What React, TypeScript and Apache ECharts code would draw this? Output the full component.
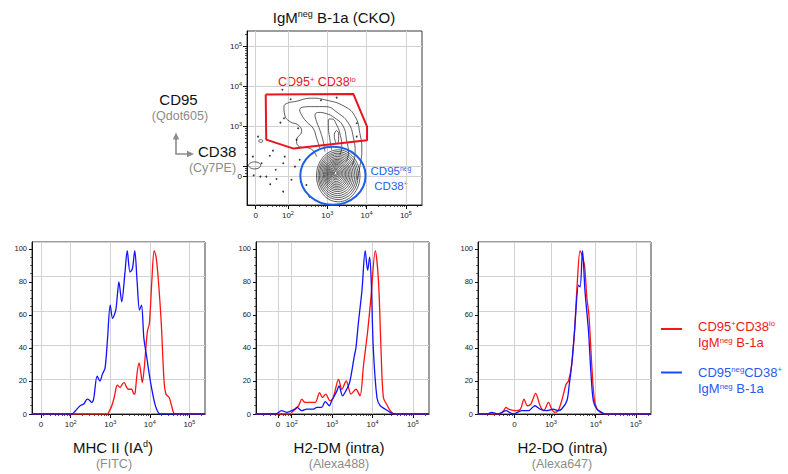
import React, { useEffect, useRef } from "react";
import * as echarts from "echarts";

const FONT = '"Liberation Sans", Arial, Helvetica, sans-serif';
const RED = "#ff1212";
const BLUE = "#1212ff";
const GATE_RED = "#e8141e";
const GATE_BLUE = "#1f5fe6";
const LEG_RED = "#f01818";
const LEG_BLUE = "#2a5af0";
const GRAY = "#8c8c8c";
const GRID_LINE = "#d2d2d2";

// ---------- Histogram data: [display position (decades), % of max] ----------
const mhcRed = [[1.02,0],[2.93,0],[2.98,2],[3.04,5],[3.10,10],[3.15,16],[3.18,17.5],[3.25,16],[3.30,18],[3.35,19],[3.42,16],[3.46,15],[3.54,15],[3.60,12],[3.63,13],[3.68,25],[3.73,31],[3.78,24],[3.81,19],[3.86,28],[3.90,40],[3.94,50],[3.99,55],[4.05,80],[4.11,99],[4.16,95],[4.22,80],[4.29,55],[4.36,20],[4.41,12],[4.49,10],[4.55,5],[4.64,0],[5.40,0]];
const mhcBlue = [[1.02,0],[2.03,0],[2.12,2],[2.24,5],[2.33,6],[2.42,9],[2.47,8.5],[2.53,7],[2.58,9],[2.67,23],[2.74,20],[2.80,24],[2.87,28],[2.93,45],[3.00,66],[3.06,58],[3.14,63],[3.18,72],[3.22,80],[3.29,68],[3.37,85],[3.43,99],[3.50,86],[3.56,88],[3.62,99],[3.68,80],[3.74,63],[3.79,66],[3.85,46],[3.92,35],[3.98,25],[4.05,15],[4.11,8],[4.17,3],[4.26,0],[5.40,0]];
const dmRed = [[1.11,0],[1.96,0],[2.00,1],[2.17,5],[2.25,9],[2.33,7],[2.45,7],[2.58,7],[2.69,13],[2.76,10],[2.84,12],[2.95,8],[3.03,10],[3.16,21],[3.24,15],[3.35,20],[3.47,12],[3.59,15],[3.69,11],[3.78,30],[3.88,50],[3.96,70],[4.07,99],[4.15,80],[4.21,40],[4.27,10],[4.37,5],[4.44,2],[4.54,0],[5.40,0]];
const dmBlue = [[1.11,0],[1.60,0],[1.75,2],[1.88,1],[2.08,3],[2.13,4],[2.25,2],[2.37,3],[2.54,3],[2.62,4],[2.74,4],[2.83,7.5],[2.93,5],[2.99,8],[3.12,14],[3.17,17],[3.26,11],[3.34,14],[3.42,18],[3.46,22],[3.55,35],[3.59,40],[3.65,55],[3.74,75],[3.82,99],[3.88,87],[3.93,95],[3.97,80],[4.02,40],[4.11,10],[4.19,5],[4.31,3],[4.44,1],[4.55,0],[5.40,0]];
const doRed = [[1.06,0],[1.60,0],[1.70,2],[1.76,4],[1.82,3],[2.00,2],[2.12,3],[2.21,9],[2.29,5],[2.38,6],[2.50,12.5],[2.61,5],[2.70,2],[2.82,7],[2.90,3],[2.98,1],[3.06,2],[3.15,8],[3.26,18],[3.32,20],[3.40,30],[3.47,50],[3.54,80],[3.61,99],[3.67,95],[3.72,90],[3.78,70],[3.83,60],[3.90,30],[3.96,10],[4.03,3],[4.12,1],[4.23,0],[5.38,0]];
const doBlue = [[1.06,0],[1.30,0],[1.40,1],[1.55,0],[1.76,2],[1.94,0],[2.15,2],[2.32,2],[2.48,5],[2.61,3],[2.78,2],[2.94,3],[3.06,2],[3.15,3],[3.28,8],[3.34,18],[3.40,30],[3.47,50],[3.57,78],[3.61,77],[3.67,99],[3.73,75],[3.82,50],[3.88,25],[3.94,8],[4.03,3],[4.15,1],[4.23,0],[5.38,0]];

// ---------- Tick labels (positions in display decades) ----------
const histTickLabels = ["0", "10^2", "10^3", "10^4", "10^5"];
const mhcTickPos = [1.25, 2, 3, 4, 5];
const dmTickPos = [1.66, 2, 3, 4, 5];
const doTickLabels = ["0", "10^3", "10^4", "10^5"];
const doTickPos = [1.97, 2.88, 4, 5];
const percentTicks = [0, 20, 40, 60, 80, 100];
const contourXLabels = ["0", "10^2", "10^3", "10^4", "10^5"];
const contourXPos = [1.18, 2, 3, 4, 5];
const contourYLabels = ["0", "10^3", "10^4", "10^5"];
const contourYLabelPos = [1.75, 3, 4, 5];
const contourYTickPos = [1.75, 2, 3, 4, 5];

// ---------- Contour plot data (x: CD38 decades, y: CD95 decades) ----------
const gatePolygon = [[1.436,3.805],[3.663,3.818],[4.013,3.0],[4.013,2.66],[2.145,2.45],[1.449,2.675],[1.436,3.805]];
const gateEllipse = [[3.145,1.77,0.83,0.725]];
// [cx, cy, rx, ry]
const blobRings = [
  [3.28,1.77,0.553,0.65],[3.276,1.775,0.51,0.60],[3.272,1.78,0.472,0.555],[3.268,1.785,0.434,0.51],
  [3.264,1.79,0.395,0.465],[3.26,1.795,0.357,0.42],[3.255,1.80,0.324,0.38],[3.25,1.805,0.291,0.342],
  [3.245,1.81,0.26,0.306],[3.24,1.815,0.23,0.27],[3.235,1.82,0.199,0.234],[3.23,1.825,0.168,0.198],
  [3.225,1.83,0.138,0.162],[3.22,1.832,0.11,0.129],[3.217,1.834,0.082,0.096],[3.215,1.835,0.056,0.066],
  [3.214,1.835,0.033,0.04],
];
const smallLoops = [[1.155,2.03,0.153,0.0875],[1.31,2.64,0.05,0.035]];
const contourA = [[2.73,2.25],[2.60,2.435],[2.26,2.52],[2.22,2.67],[2.35,2.875],[2.26,3.04],[2.05,3.125],[1.92,3.29],[1.90,3.5],[2.0,3.59],[2.18,3.625],[2.60,3.71],[2.94,3.67],[3.45,3.5],[3.71,3.25],[3.83,2.835],[3.88,2.42],[3.83,2.0],[3.76,1.67]];
const contourB = [[2.81,2.46],[2.73,2.71],[2.64,2.96],[2.47,3.125],[2.35,3.29],[2.30,3.42],[2.41,3.49],[2.60,3.5],[2.94,3.5],[3.28,3.335],[3.54,3.085],[3.66,2.75],[3.71,2.335],[3.63,2.04]];
const contourC = [[2.94,2.375],[2.90,2.625],[2.81,2.92],[2.73,3.125],[2.69,3.29],[2.79,3.355],[2.94,3.335],[3.20,3.21],[3.41,3.0],[3.49,2.67],[3.54,2.335],[3.48,2.12]];
const contourD = [[3.11,2.42],[3.07,2.67],[3.03,3.0],[3.03,3.17],[3.12,3.19],[3.24,3.04],[3.32,2.835],[3.37,2.5],[3.32,2.29]];
const contourE = [[3.235,2.905],[3.29,2.82],[3.29,2.67],[3.25,2.57],[3.20,2.65],[3.18,2.80],[3.235,2.905]];
const outlierDots = [[1.86,3.92],[2.07,3.685],[2.84,3.66],[3.24,3.725],[1.90,3.21],[1.81,3.10],[2.26,2.96],[1.24,2.75],[2.22,2.67],[1.11,2.25],[1.62,2.40],[1.54,2.27],[1.92,2.25],[1.88,2.085],[1.33,2.085],[1.69,1.92],[2.18,2.0],[1.45,1.75],[1.30,1.75],[1.71,1.69],[2.09,1.67],[1.88,1.375],[2.47,1.54],[3.75,3.085],[3.75,2.75],[2.30,2.17],[1.13,1.78],[1.55,1.56],[2.55,1.25]];

// ---------- helpers ----------
const supFmt = (t: string) => (t.includes("^") ? t.replace(/\^(.+)$/, "{s|$1}") : t);
const makeFormatter = (labels: string[], pos: number[]) => (v: number) => {
  const i = pos.findIndex((p) => Math.abs(p - v) < 1e-6);
  return i < 0 ? "" : supFmt(labels[i]);
};
const logMinors = (lo: number, hi: number) => {
  const out: number[] = [];
  for (let k = 1; k <= 5; k++)
    for (let m = 2; m <= 9; m++) {
      const v = k + Math.log10(m);
      if (v > lo && v < hi) out.push(v);
    }
  return out;
};
const axisLabelStyle = {
  fontFamily: FONT,
  fontSize: 8,
  color: "#222",
  lineHeight: 11,
  rich: { s: { fontFamily: FONT, fontSize: 5.5, lineHeight: 6, verticalAlign: "top", color: "#222" } },
};

function txt(x: number, y: number, text: string, fs: number, fill: string, align = "center") {
  const sfs = Math.round(fs * 0.6 * 10) / 10;
  return {
    type: "text",
    x,
    y,
    silent: true,
    style: {
      text,
      fill,
      fontFamily: FONT,
      fontSize: fs,
      lineHeight: fs,
      align,
      verticalAlign: "middle",
      rich: { s: { fontFamily: FONT, fontSize: sfs, lineHeight: sfs, verticalAlign: "top", fill } },
    },
  };
}

function buildOption() {
  const grids = [
    { left: 247, top: 31, width: 175, height: 174 },
    { left: 32, top: 242, width: 173, height: 172 },
    { left: 256, top: 242, width: 173, height: 172 },
    { left: 478, top: 242, width: 173, height: 172 },
  ].map((g) => ({ ...g, show: true, borderColor: "#3a3a3a", borderWidth: 1, backgroundColor: "transparent" }));

  const xAxes: any[] = [];
  const yAxes: any[] = [];
  const series: any[] = [];

  const majorX = (gridIndex: number, min: number, max: number, tickPos: number[], labels: string[], labelPos: number[]) => {
    xAxes.push({
      type: "value", gridIndex, min, max, position: "bottom",
      axisLine: { show: true, onZero: false, lineStyle: { color: "#111", width: 1 } },
      axisTick: { show: true, length: 4, customValues: tickPos, lineStyle: { color: "#111", width: 1 } },
      axisLabel: { ...axisLabelStyle, margin: 5, customValues: labelPos, formatter: makeFormatter(labels, labelPos) },
      splitLine: { show: true, lineStyle: { color: GRID_LINE, width: 1 } },
    });
    return xAxes.length - 1;
  };
  const minorX = (gridIndex: number, min: number, max: number) => {
    xAxes.push({
      type: "value", gridIndex, min, max, position: "bottom",
      axisLine: { show: false, onZero: false },
      axisTick: { show: true, length: 2, customValues: logMinors(min, max), lineStyle: { color: "#222", width: 0.8 } },
      axisLabel: { show: false },
      splitLine: { show: false },
    });
    return xAxes.length - 1;
  };

  // ---- contour grid (0)
  const cx = majorX(0, 0.96, 5.41, contourXPos, contourXLabels, contourXPos);
  minorX(0, 0.96, 5.41);
  yAxes.push({
    type: "value", gridIndex: 0, min: 1.04, max: 5.39, position: "left",
    axisLine: { show: true, onZero: false, lineStyle: { color: "#111", width: 1 } },
    axisTick: { show: true, length: 4, customValues: contourYTickPos, lineStyle: { color: "#111" } },
    axisLabel: { ...axisLabelStyle, margin: 5, customValues: contourYLabelPos, formatter: makeFormatter(contourYLabels, contourYLabelPos) },
    splitLine: { show: true, lineStyle: { color: GRID_LINE, width: 1 } },
  });
  const cy = yAxes.length - 1;
  yAxes.push({
    type: "value", gridIndex: 0, min: 1.04, max: 5.39, position: "left",
    axisLine: { show: false, onZero: false },
    axisTick: { show: true, length: 2, customValues: logMinors(1.8, 5.39), lineStyle: { color: "#222", width: 0.8 } },
    axisLabel: { show: false },
    splitLine: { show: false },
  });

  const contourLine = (data: number[][]) => ({
    type: "line", xAxisIndex: cx, yAxisIndex: cy, data, symbol: "none", smooth: 0.5, silent: true,
    lineStyle: { color: "#1a1a1a", width: 0.7 }, z: 3,
  });
  const ellipseSeries = (data: number[][], stroke: string, lw: number, z: number) => ({
    type: "custom", coordinateSystem: "cartesian2d", xAxisIndex: cx, yAxisIndex: cy, data, silent: true, z,
    renderItem: (_p: any, api: any) => {
      const c = api.coord([api.value(0), api.value(1)]);
      const s = api.size([api.value(2), api.value(3)]);
      return {
        type: "ellipse",
        shape: { cx: c[0], cy: c[1], rx: Math.abs(s[0]), ry: Math.abs(s[1]) },
        style: { fill: "none", stroke, lineWidth: lw },
      };
    },
  });

  series.push(ellipseSeries(blobRings, "#1a1a1a", 0.7, 3));
  series.push(ellipseSeries(smallLoops, "#1a1a1a", 0.7, 3));
  [contourA, contourB, contourC, contourD, contourE].forEach((d) => series.push(contourLine(d)));
  series.push({
    type: "scatter", xAxisIndex: cx, yAxisIndex: cy, data: outlierDots, symbolSize: 1.8, silent: true,
    itemStyle: { color: "#000" }, z: 4,
  });
  series.push({
    type: "line", xAxisIndex: cx, yAxisIndex: cy, data: gatePolygon, symbol: "none", silent: true,
    lineStyle: { color: GATE_RED, width: 2 }, z: 10,
  });
  series.push(ellipseSeries(gateEllipse, GATE_BLUE, 2, 10));

  // ---- histograms
  const hists = [
    { g: 1, min: 1.023, max: 5.395, tickPos: mhcTickPos, labels: histTickLabels, red: mhcRed, blue: mhcBlue },
    { g: 2, min: 1.115, max: 5.40, tickPos: dmTickPos, labels: histTickLabels, red: dmRed, blue: dmBlue },
    { g: 3, min: 1.06, max: 5.38, tickPos: doTickPos, labels: doTickLabels, red: doRed, blue: doBlue },
  ];
  hists.forEach((h) => {
    const xi = majorX(h.g, h.min, h.max, h.tickPos, h.labels, h.tickPos);
    minorX(h.g, h.min, h.max);
    yAxes.push({
      type: "value", gridIndex: h.g, min: 0, max: 104.2, position: "left",
      axisLine: { show: true, onZero: false, lineStyle: { color: "#111", width: 1 } },
      axisTick: { show: true, length: 3, customValues: percentTicks, lineStyle: { color: "#111" } },
      axisLabel: { fontFamily: FONT, fontSize: 7.5, color: "#222", margin: 5, customValues: percentTicks },
      splitLine: { show: false },
    });
    const yi = yAxes.length - 1;
    const minors: number[] = [];
    for (let v = 5; v < 104; v += 5) if (v % 20 !== 0) minors.push(v);
    yAxes.push({
      type: "value", gridIndex: h.g, min: 0, max: 104.2, position: "left",
      axisLine: { show: false, onZero: false },
      axisTick: { show: true, length: 1.8, customValues: minors, lineStyle: { color: "#222", width: 0.8 } },
      axisLabel: { show: false },
      splitLine: { show: false },
    });
    yAxes.push({
      type: "value", gridIndex: h.g, min: 0, max: 5, interval: 1, position: "right",
      axisLine: { show: false, onZero: false },
      axisTick: { show: false },
      axisLabel: { show: false },
      splitLine: { show: true, lineStyle: { color: GRID_LINE, width: 1 } },
    });
    series.push({
      type: "line", xAxisIndex: xi, yAxisIndex: yi, data: h.red, symbol: "none", smooth: 0.3, silent: true,
      lineStyle: { color: RED, width: 1.3 }, z: 3,
    });
    series.push({
      type: "line", xAxisIndex: xi, yAxisIndex: yi, data: h.blue, symbol: "none", smooth: 0.3, silent: true,
      lineStyle: { color: BLUE, width: 1.3 }, z: 4,
    });
  });

  const graphic: any[] = [
    txt(334, 17, "IgM{s|neg} B-1a (CKO)", 15, "#111"),
    txt(178.5, 99, "CD95", 15, "#111"),
    txt(180, 115.5, "(Qdot605)", 12.5, GRAY),
    txt(198, 151, "CD38", 15, "#111", "left"),
    txt(212.5, 167.5, "(Cy7PE)", 12.5, GRAY),
    txt(278, 82, "CD95{s|+} CD38{s|lo}", 12.5, GATE_RED, "left"),
    txt(391, 171, "CD95{s|neg}", 11.5, GATE_BLUE),
    txt(391, 186, "CD38{s|+}", 11.5, GATE_BLUE),
    txt(113, 447, "MHC II (IA{s|d})", 15, "#111"),
    txt(114, 463.5, "(FITC)", 12.5, GRAY),
    txt(339, 447, "H2-DM (intra)", 15, "#111"),
    txt(339, 463.5, "(Alexa488)", 12.5, GRAY),
    txt(562.5, 447, "H2-DO (intra)", 15, "#111"),
    txt(562, 463.5, "(Alexa647)", 12.5, GRAY),
    { type: "line", silent: true, shape: { x1: 661, y1: 329, x2: 682, y2: 329 }, style: { stroke: RED, lineWidth: 2 } },
    txt(698, 326, "CD95{s|+}CD38{s|lo}", 13, LEG_RED, "left"),
    txt(698, 342.5, "IgM{s|neg} B-1a", 13, LEG_RED, "left"),
    { type: "line", silent: true, shape: { x1: 661, y1: 372.5, x2: 682, y2: 372.5 }, style: { stroke: "#1a4cff", lineWidth: 2 } },
    txt(698, 372, "CD95{s|neg}CD38{s|+}", 13, LEG_BLUE, "left"),
    txt(698, 388.5, "IgM{s|neg} B-1a", 13, LEG_BLUE, "left"),
    { type: "polyline", silent: true, shape: { points: [[176, 136], [176, 154], [190, 154]] }, style: { stroke: GRAY, lineWidth: 1.6, fill: "none" } },
    { type: "polygon", silent: true, shape: { points: [[172.8, 139.5], [176, 132.5], [179.2, 139.5]] }, style: { fill: GRAY } },
    { type: "polygon", silent: true, shape: { points: [[187, 150.8], [194, 154], [187, 157.2]] }, style: { fill: GRAY } },
  ];

  return {
    animation: false,
    backgroundColor: "#fff",
    textStyle: { fontFamily: FONT },
    grid: grids,
    xAxis: xAxes,
    yAxis: yAxes,
    series,
    graphic,
  };
}

export default function App() {
  const ref = useRef<HTMLDivElement>(null);
  useEffect(() => {
    const chart = echarts.init(ref.current!, null, { renderer: "svg" });
    chart.setOption(buildOption() as any);
    return () => chart.dispose();
  }, []);
  return (
    <div
      ref={ref}
      style={{ position: "absolute", left: 0, top: 0, width: 788, height: 474, background: "#fff" }}
    />
  );
}
